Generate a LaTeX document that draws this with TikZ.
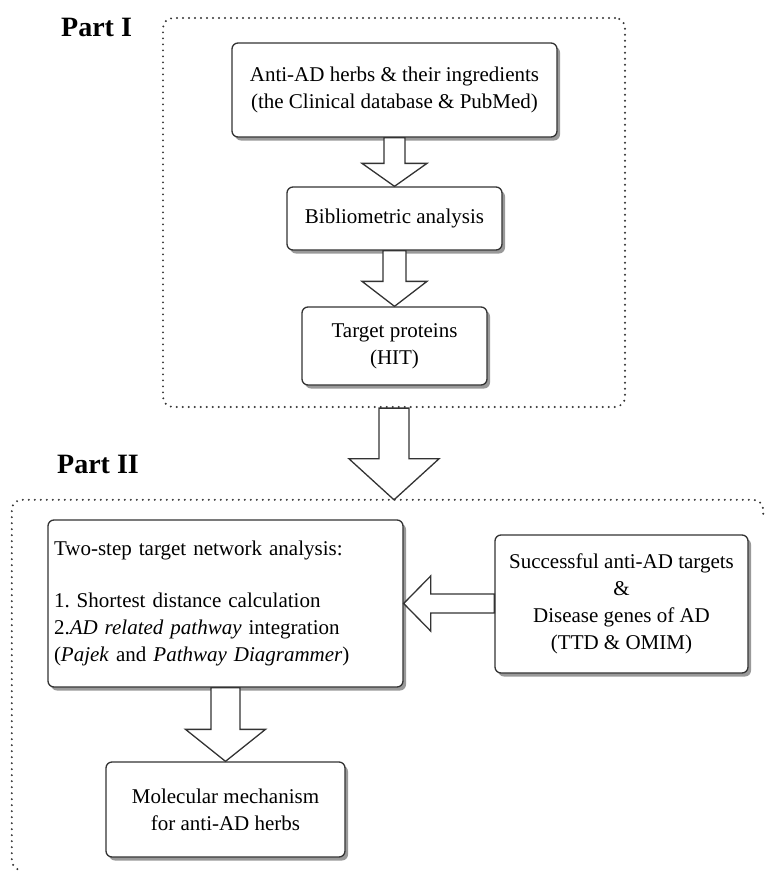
\documentclass[tikz,border=0pt]{standalone}
\usepackage{fontspec}
\setmainfont{Liberation Serif}
\usetikzlibrary{calc,shadows}
\definecolor{edge}{HTML}{333333}
\tikzset{
  box/.style={draw=edge, line width=1.3pt, rounded corners=6pt, fill=white, align=center,
    inner sep=6pt, font=\fontsize{21}{27}\selectfont,
    drop shadow={shadow xshift=3pt, shadow yshift=-3.5pt, opacity=0.4, fill=black}},
  dotbox/.style={draw=edge, line width=2.2pt, dash pattern=on 0pt off 6pt, line cap=round, rounded corners=10pt},
  blk/.style={draw=edge, line width=1.3pt, fill=white, line join=miter},
  partlabel/.style={font=\fontsize{28}{32}\selectfont\bfseries, anchor=base west, inner sep=0pt},
}
% #1 from anchor, #2 to anchor, #3 shaft half width, #4 head half width, #5 head length
\newcommand\blkdown[5]{%
  \draw[blk] ($(#1)+(-#3,0)$) -- ($(#1 |- #2)+(-#3,-#5)$) -- ($(#1 |- #2)+(-#4,-#5)$)
    -- (#1 |- #2) -- ($(#1 |- #2)+(#4,-#5)$) -- ($(#1 |- #2)+(#3,-#5)$) -- ($(#1)+(#3,0)$) -- cycle;}
\begin{document}
\begin{tikzpicture}[x=1pt,y=-1pt]
\useasboundingbox (0,0) rectangle (769,873);

% containers
\node[dotbox, minimum width=462pt, minimum height=389pt, inner sep=0pt] (p1) at (394,212.5) {};
\node[minimum width=751pt, minimum height=370pt, inner sep=0pt] (p2) at (387.5,685) {};
\draw[dotbox] ([yshift=-14pt]p2.north east) -- (p2.north east) -- (p2.north west)
  -- (p2.south west) -- ([xshift=10pt]p2.south west);

\node[partlabel] (l1) at (61,36) {Part I};
\node[partlabel] (l2) at (57,473) {Part II};

% boxes
\node[box, minimum width=325pt, minimum height=94pt] (b1) at (394.5,90)
  {Anti-AD herbs \& their ingredients\\(the Clinical database \& PubMed)};
\node[box, minimum width=215pt, minimum height=63pt] (b2) at (394.5,218.5)
  {Bibliometric analysis};
\node[box, minimum width=185pt, minimum height=78pt] (b3) at (394.5,346)
  {Target proteins\\(HIT)};
\node[box, minimum width=355pt, minimum height=167pt, text width=343pt, align=left] (b4) at (225.5,603.5)
  {Two-step target network analysis:\\[25pt]
   1.\ Shortest distance calculation\\
   2.\textit{AD related pathway} integration\\
   (\textit{Pajek} and \textit{Pathway Diagrammer})};
\node[box, minimum width=253pt, minimum height=138pt] (b5) at (621.5,604)
  {Successful anti-AD targets\\\&\\Disease genes of AD\\(TTD \& OMIM)};
\node[box, minimum width=239pt, minimum height=95pt] (b6) at (225.5,809.5)
  {Molecular mechanism\\for anti-AD herbs};

% block arrows
\blkdown{b1.south}{b2.north}{10.5}{32.5}{23}
\blkdown{b2.south}{b3.north}{11.5}{32.5}{25}
\blkdown{p1.south}{p2.north}{15}{45}{41}
\blkdown{b4.south}{b6.north}{14.5}{40}{32}
\draw[blk] ($(b5.west |- b4.east)+(0,-9.5)$) -- ($(b4.east)+(27,-9.5)$) -- ($(b4.east)+(27,-27.5)$)
  -- (b4.east) -- ($(b4.east)+(27,27.5)$) -- ($(b4.east)+(27,9.5)$)
  -- ($(b5.west |- b4.east)+(0,9.5)$) -- cycle;
\end{tikzpicture}
\end{document}
